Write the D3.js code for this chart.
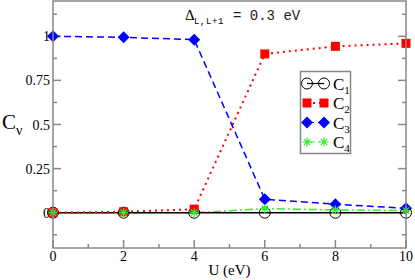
<!DOCTYPE html>
<html>
<head>
<meta charset="utf-8">
<script src="https://cdn.jsdelivr.net/npm/d3@7"></script>
<style>
  body { margin: 0; background: #fff; }
</style>
</head>
<body>
<div id="chart"></div>
<script>
// Occupation coefficients C_v vs U

const uValues = [0, 2, 4, 6, 8, 10];
const c1 = [0, 0, 0, 0, 0, 0];
const c2 = [0.0, 0.005, 0.02, 0.90, 0.943, 0.96];
const c3 = [1.0, 0.994, 0.981, 0.076, 0.048, 0.025];
const c4 = [0.0, 0.0, 0.0, 0.023, 0.016, 0.012];
const xTicks = [0, 2, 4, 6, 8, 10];
const yTicks = [0, 0.25, 0.5, 0.75, 1];
const yTickLabels = ["0", "0.25", "0.5", "0.75", "1"];

const serif = "'Liberation Serif', 'Times New Roman', Times, 'DejaVu Serif', serif";
const mono = "'Liberation Mono', 'Courier New', Courier, 'DejaVu Sans Mono', monospace";

const width = 415;
const height = 280;
const margin = { top: 1, right: 9, bottom: 32, left: 53 };
const chartWidth = width - margin.left - margin.right;
const chartHeight = height - margin.top - margin.bottom;

const svg = d3.select("#chart")
  .append("svg")
  .attr("width", width)
  .attr("height", height)
  .attr("font-family", serif);

const chart = svg.append("g")
  .attr("transform", `translate(${margin.left}, ${margin.top})`);

const xScale = d3.scaleLinear().domain([0, 10]).range([0, chartWidth]);
const yScale = d3.scaleLinear().domain([-0.2, 1.2]).range([chartHeight, 0]);

const frameColor = "#888";

// Ticks (inward)
const ticks = chart.append("g").attr("stroke", frameColor).attr("stroke-width", 1.5);
d3.range(0, 10.01, 1).forEach(v => {
  const len = v % 2 === 0 ? 8 : 4;
  ticks.append("line")
    .attr("x1", xScale(v)).attr("x2", xScale(v))
    .attr("y1", chartHeight).attr("y2", chartHeight - len);
});
d3.range(-0.125, 1.2, 0.125).forEach(v => {
  const major = Math.abs(v / 0.25 - Math.round(v / 0.25)) < 1e-6;
  const len = major ? 8 : 4;
  ticks.append("line")
    .attr("x1", 0).attr("x2", len)
    .attr("y1", yScale(v)).attr("y2", yScale(v));
  ticks.append("line")
    .attr("x1", chartWidth).attr("x2", chartWidth - len)
    .attr("y1", yScale(v)).attr("y2", yScale(v));
});

// Tick labels
chart.selectAll(".xlab")
  .data(xTicks)
  .enter()
  .append("text")
  .attr("font-family", serif)
  .attr("x", d => xScale(d))
  .attr("y", chartHeight + 13)
  .attr("text-anchor", "middle")
  .attr("font-size", 14)
  .text(d => d);

chart.selectAll(".ylab")
  .data(yTicks)
  .enter()
  .append("text")
  .attr("font-family", serif)
  .attr("x", -3)
  .attr("y", d => yScale(d) + 5)
  .attr("text-anchor", "end")
  .attr("font-size", 14)
  .text((d, i) => yTickLabels[i]);

// Lines
const line = d3.line()
  .x((d, i) => xScale(uValues[i]))
  .y(d => yScale(d));

chart.append("path").datum(c4)
  .attr("fill", "none").attr("stroke", "#33ee33").attr("stroke-width", 1.5)
  .attr("stroke-dasharray", "8,3,2,3").attr("d", line);

chart.append("path").datum(c1)
  .attr("fill", "none").attr("stroke", "#000").attr("stroke-width", 1.5)
  .attr("d", line);

chart.append("path").datum(c2)
  .attr("fill", "none").attr("stroke", "#ff0000").attr("stroke-width", 2)
  .attr("stroke-dasharray", "2,4").attr("d", line);

chart.append("path").datum(c3)
  .attr("fill", "none").attr("stroke", "#0000ff").attr("stroke-width", 1.5)
  .attr("stroke-dasharray", "7,4").attr("d", line);

// Markers
function circleMark(g, x, y) {
  g.append("circle").attr("cx", x).attr("cy", y).attr("r", 5.5)
    .attr("fill", "none").attr("stroke", "#000").attr("stroke-width", 1);
}
function squareMark(g, x, y) {
  g.append("rect").attr("x", x - 4.5).attr("y", y - 4.5)
    .attr("width", 9).attr("height", 9).attr("fill", "#ff0000");
}
function diamondMark(g, x, y) {
  g.append("path")
    .attr("d", `M${x},${y - 6}L${x + 6},${y}L${x},${y + 6}L${x - 6},${y}Z`)
    .attr("fill", "#0000ff");
}
function starMark(g, x, y) {
  const r = 4.5;
  let d = "";
  for (let k = 0; k < 4; k++) {
    const a = k * Math.PI / 4;
    d += `M${x - r * Math.cos(a)},${y - r * Math.sin(a)}L${x + r * Math.cos(a)},${y + r * Math.sin(a)}`;
  }
  g.append("path").attr("d", d).attr("stroke", "#33ee33").attr("stroke-width", 1.2);
}

const marks = chart.append("g");
c1.forEach((v, i) => circleMark(marks, xScale(uValues[i]), yScale(v)));
c2.forEach((v, i) => squareMark(marks, xScale(uValues[i]), yScale(v)));
c3.forEach((v, i) => diamondMark(marks, xScale(uValues[i]), yScale(v)));
c4.forEach((v, i) => starMark(marks, xScale(uValues[i]), yScale(v)));

// Frame
chart.append("rect")
  .attr("x", 0).attr("y", 0)
  .attr("width", chartWidth).attr("height", chartHeight)
  .attr("fill", "none").attr("stroke", frameColor).attr("stroke-width", 1.5);

// Annotation
svg.append("text").attr("x", 185).attr("y", 20)
  .attr("font-family", serif).attr("font-size", 15).text("Δ");
svg.append("text").attr("x", 194).attr("y", 24)
  .attr("font-family", mono).attr("font-size", 9).attr("letter-spacing", 0.6).text("L,L+1");
svg.append("text").attr("x", 233).attr("y", 20)
  .attr("font-family", mono).attr("font-size", 14).attr("fill", "#222")
  .attr("xml:space", "preserve").text("= 0.3 eV");

// Axis labels
const yl = svg.append("text").attr("x", 2).attr("y", 129)
  .attr("font-family", serif).attr("font-size", 21);
yl.append("tspan").text("C");
yl.append("tspan").attr("font-size", 14).attr("dy", 6).text("ν");

svg.append("text")
  .attr("font-family", serif)
  .attr("x", margin.left + chartWidth / 2)
  .attr("y", 275)
  .attr("text-anchor", "middle")
  .attr("font-size", 15)
  .text("U (eV)");

// Legend
const legend = svg.append("g");
legend.append("rect")
  .attr("x", 300.5).attr("y", 71.5).attr("width", 50).attr("height", 82)
  .attr("fill", "#fff").attr("stroke", frameColor).attr("stroke-width", 1.5);

const legendItems = [
  { name: "1", mark: circleMark, stroke: "#000", dash: null },
  { name: "2", mark: squareMark, stroke: "#ff0000", dash: "2,4" },
  { name: "3", mark: diamondMark, stroke: "#0000ff", dash: "7,4" },
  { name: "4", mark: starMark, stroke: "#33ee33", dash: "8,3,2,3" }
];
legendItems.forEach((it, i) => {
  const y = 83.5 + i * 19.5;
  legend.append("line")
    .attr("x1", 307).attr("x2", 324).attr("y1", y).attr("y2", y)
    .attr("stroke", it.stroke).attr("stroke-width", it.name === "2" ? 2 : 1.2)
    .attr("stroke-dasharray", it.dash);
  it.mark(legend, 307, y);
  it.mark(legend, 324, y);
  const t = legend.append("text").attr("x", 333).attr("y", y + 6)
    .attr("font-family", serif).attr("font-size", 17);
  t.append("tspan").text("C");
  t.append("tspan").attr("font-size", 11).attr("dy", 4).text(it.name);
});
</script>
</body>
</html>
